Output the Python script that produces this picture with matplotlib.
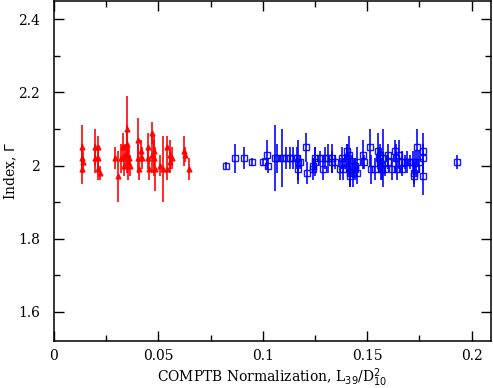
import numpy as np
import matplotlib
matplotlib.use("Agg")
import matplotlib.pyplot as plt

# red sources (triangles): normalization, index, error
red_x = [0.0133, 0.0133, 0.0133, 0.0140, 0.0196, 0.0196, 0.0210, 0.0210, 0.0210, 0.0220,
         0.0290, 0.0305, 0.0320, 0.0330, 0.0335, 0.0340, 0.0348, 0.0350, 0.0350, 0.0355,
         0.0360, 0.0365, 0.0400, 0.0400, 0.0405, 0.0415, 0.0420, 0.0450, 0.0450, 0.0455,
         0.0470, 0.0470, 0.0480, 0.0480, 0.0485, 0.0510, 0.0520, 0.0540, 0.0540, 0.0556,
         0.0556, 0.0566, 0.0623, 0.0628, 0.0647]
red_y = [2.05, 2.02, 1.99, 2.01, 2.05, 2.02, 2.05, 2.02, 1.99, 1.98,
         2.02, 1.97, 2.02, 2.05, 2.00, 2.03, 2.10, 2.06, 2.02, 2.01,
         2.02, 2.00, 2.07, 2.02, 1.99, 2.04, 2.02, 2.05, 2.02, 1.99,
         2.09, 2.03, 2.04, 2.02, 1.99, 2.00, 1.99, 2.05, 1.99, 2.01,
         2.03, 2.02, 2.04, 2.03, 1.99]
red_err = [0.06, 0.04, 0.04, 0.03, 0.05, 0.04, 0.03, 0.03, 0.03, 0.02,
           0.03, 0.07, 0.04, 0.04, 0.03, 0.03, 0.09, 0.05, 0.04, 0.05,
           0.03, 0.03, 0.06, 0.04, 0.03, 0.03, 0.03, 0.04, 0.03, 0.03,
           0.03, 0.05, 0.04, 0.05, 0.06, 0.03, 0.09, 0.03, 0.03, 0.03,
           0.04, 0.03, 0.04, 0.02, 0.03]

# blue sources (open squares)
blue_x = [0.0824, 0.0867, 0.0910, 0.0947, 0.1000, 0.1020, 0.1025, 0.1060, 0.1070, 0.1090,
          0.1110, 0.1130, 0.1145, 0.1165, 0.1167, 0.1170, 0.1180, 0.1207, 0.1210, 0.1240,
          0.1242, 0.1250, 0.1252, 0.1274, 0.1290, 0.1300, 0.1310, 0.1330, 0.1332, 0.1345,
          0.1370, 0.1380, 0.1382, 0.1394, 0.1403, 0.1405, 0.1414, 0.1415, 0.1416, 0.1418,
          0.1426, 0.1430, 0.1440, 0.1442, 0.1450, 0.1452, 0.1480, 0.1485, 0.1513, 0.1520,
          0.1537, 0.1553, 0.1555, 0.1560, 0.1562, 0.1565, 0.1570, 0.1577, 0.1585, 0.1600,
          0.1602, 0.1617, 0.1633, 0.1640, 0.1642, 0.1650, 0.1665, 0.1667, 0.1680, 0.1690,
          0.1705, 0.1720, 0.1722, 0.1726, 0.1730, 0.1732, 0.1740, 0.1748, 0.1766, 0.1767,
          0.1768, 0.1932]
blue_y = [2.00, 2.02, 2.02, 2.01, 2.01, 2.03, 2.00, 2.02, 2.02, 2.02,
          2.02, 2.02, 2.02, 2.02, 1.99, 2.01, 2.01, 2.05, 1.98, 1.99,
          2.00, 2.01, 2.02, 2.02, 1.99, 2.02, 2.02, 2.02, 2.01, 2.01,
          1.99, 2.02, 1.99, 2.01, 2.02, 2.04, 2.03, 2.00, 1.98, 1.97,
          2.00, 1.98, 1.99, 2.00, 2.01, 1.98, 2.03, 2.01, 2.05, 1.99,
          1.99, 2.04, 2.02, 2.03, 2.01, 1.99, 1.99, 2.02, 1.99, 2.03,
          2.01, 1.99, 2.04, 2.02, 1.99, 2.03, 2.01, 1.99, 2.01, 2.01,
          2.01, 2.01, 1.97, 1.98, 2.01, 1.99, 2.05, 2.01, 2.04, 2.02,
          1.97, 2.01]
blue_err = [0.01, 0.04, 0.03, 0.01, 0.01, 0.04, 0.02, 0.09, 0.04, 0.08,
            0.03, 0.03, 0.03, 0.03, 0.03, 0.06, 0.02, 0.04, 0.03, 0.03,
            0.02, 0.04, 0.03, 0.02, 0.03, 0.03, 0.04, 0.04, 0.03, 0.02,
            0.03, 0.03, 0.03, 0.02, 0.04, 0.02, 0.05, 0.03, 0.04, 0.03,
            0.03, 0.04, 0.03, 0.02, 0.04, 0.03, 0.04, 0.02, 0.05, 0.04,
            0.03, 0.05, 0.03, 0.03, 0.03, 0.03, 0.03, 0.08, 0.02, 0.03,
            0.02, 0.03, 0.03, 0.04, 0.03, 0.04, 0.03, 0.02, 0.02, 0.03,
            0.02, 0.03, 0.03, 0.03, 0.03, 0.02, 0.05, 0.03, 0.05, 0.04,
            0.05, 0.02]

plt.rcParams['font.family'] = 'DejaVu Serif'

fig = plt.figure(figsize=(4.93, 3.88), dpi=100)
ax = fig.add_axes([54 / 493, 47 / 388, 437 / 493, 340 / 388])

ax.errorbar(red_x, red_y, yerr=red_err, fmt='^', color='red', ecolor='red',
            ms=3.5, elinewidth=1.3, capsize=0, alpha=0.9)
ax.errorbar(blue_x, blue_y, yerr=blue_err, fmt='s', color='blue', ecolor='blue',
            mfc='none', mec='blue', ms=4, mew=1, elinewidth=1.3, capsize=0, alpha=0.9)

ax.set_xlim(0, 0.2093)
ax.set_ylim(1.52, 2.45)
ax.set_xticks([0, 0.05, 0.1, 0.15, 0.2])
ax.set_xticklabels(['0', '0.05', '0.1', '0.15', '0.2'])
ax.set_xticks(np.arange(0.025, 0.21, 0.05), minor=True)
ax.set_yticks([1.6, 1.8, 2.0, 2.2, 2.4])
ax.set_yticklabels(['1.6', '1.8', '2', '2.2', '2.4'])
ax.set_yticks([1.7, 1.9, 2.1, 2.3], minor=True)
ax.tick_params(which='both', direction='in', top=True, right=True, labelsize=10, width=1)
ax.tick_params(axis='y', which='major', pad=10)
ax.tick_params(axis='x', which='major', pad=6)
ax.tick_params(which='major', length=7)
ax.tick_params(which='minor', length=4)
for s in ax.spines.values():
    s.set_linewidth(1.1)

ax.set_xlabel(r'COMPTB Normalization, L$_{39}$/D$^2_{10}$', fontsize=10, labelpad=2)
ax.set_ylabel(r'Index, $\Gamma$', fontsize=10, va='center')
ax.yaxis.set_label_coords(-0.098, 0.5)

fig.savefig('out.png', dpi=100)
